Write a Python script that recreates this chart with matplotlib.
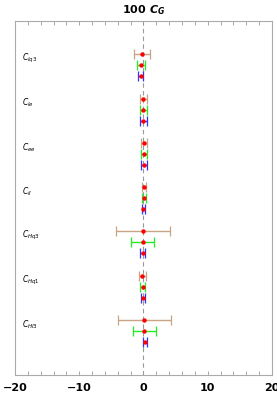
import numpy as np
import matplotlib.pyplot as plt

plt.rcParams['mathtext.fontset'] = 'custom'
plt.rcParams['mathtext.it'] = 'DejaVu Sans:italic'
plt.rcParams['mathtext.rm'] = 'DejaVu Sans'
plt.rcParams['mathtext.bf'] = 'DejaVu Sans:bold:italic'

# Wilson coefficients (top to bottom) and fit results for three scenarios
labels = [r'$C_{lq3}$', r'$C_{le}$', r'$C_{ee}$', r'$C_{ll}$',
          r'$C_{Hq3}$', r'$C_{Hq1}$', r'$C_{Hl3}$']
center_a = [-0.2, 0.0, 0.05, 0.05, -0.05, -0.2, 0.15]
err_a    = [1.2, 0.6, 0.45, 0.35, 4.15, 0.55, 4.1]
center_b = [-0.35, 0.0, 0.05, 0.05, -0.1, -0.15, 0.15]
err_b    = [0.65, 0.6, 0.45, 0.35, 1.8, 0.35, 1.8]
center_c = [-0.45, 0.0, 0.05, 0.0, -0.15, -0.1, 0.2]
err_c    = [0.45, 0.6, 0.45, 0.25, 0.35, 0.3, 0.35]

colors = ['#c8a484', '#22ee22', '#3333ff']

fig = plt.figure(figsize=(2.77, 4.15), dpi=100)
ax = fig.add_axes([0.054, 0.096, 0.928, 0.853])

ypos = 3 + 4 * np.arange(len(labels))
for j, (c, e) in enumerate([(center_a, err_a), (center_b, err_b), (center_c, err_c)]):
    line, caps, bars = ax.errorbar(c, ypos + j, xerr=e, fmt='none', ecolor=colors[j],
                                   elinewidth=1.0, capsize=3.6, capthick=0.9)
    for cl in caps:
        cl.set_color('#999999')
    ax.plot(c, ypos + j, 'o', color='red', ms=3.2, mew=0, zorder=5)

for i, lab in enumerate(labels):
    ax.text(-18.9, ypos[i] + 0.4, lab, fontsize=5.5, va='center', ha='left')

ax.axvline(0, color='#999999', ls=(0, (4, 3)), lw=0.8, zorder=0)

ax.set_xlim(-20, 20)
ax.set_ylim(32, 0)
ax.set_xticks([-20, -10, 0, 10, 20])
ax.set_xticklabels(['\u221220', '\u221210', '0', '10', '20'], fontweight='bold', fontsize=8)
ax.set_xticks(np.arange(-20, 21, 2), minor=True)
ax.tick_params(axis='x', which='both', direction='in', top=True, bottom=True,
               length=3, width=0.6, color='#999999', pad=6)
ax.set_yticks([])
for s in ax.spines.values():
    s.set_color('#aaaaaa')
    s.set_linewidth(0.8)

ax.set_title(r'100 $\mathbf{C_G}$', fontsize=8, fontweight='bold', pad=6)

fig.savefig('out.png', dpi=100)
